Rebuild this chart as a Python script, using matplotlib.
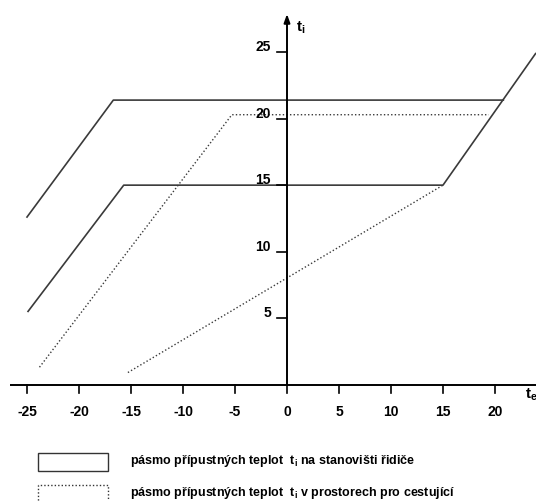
"""
Pásmo přípustných teplot t_i v závislosti na venkovní teplotě t_e.
Přepis naskenovaného diagramu do matplotlib.
"""

import matplotlib
matplotlib.use('Agg')
import matplotlib.pyplot as plt
from matplotlib.patches import Rectangle

plt.rcParams['font.family'] = ['Liberation Sans', 'DejaVu Sans']
plt.rcParams['mathtext.fontset'] = 'custom'
plt.rcParams['mathtext.rm'] = 'Liberation Sans'
plt.rcParams['mathtext.it'] = 'Liberation Sans'
plt.rcParams['mathtext.bf'] = 'Liberation Sans:bold'

# --- Data ---
# pásmo pro řidiče (plné čáry)
ridic_horni_x = [-25.0, -16.7, 20.8]
ridic_horni_y = [12.6, 21.4, 21.4]
ridic_dolni_x = [-24.9, -15.7, 15.0, 23.9]
ridic_dolni_y = [5.5, 15.0, 15.0, 24.9]

# pásmo pro cestující (tečkované čáry)
cest_horni_x = [-23.8, -5.3, 19.4]
cest_horni_y = [1.3, 20.3, 20.3]
cest_dolni_x = [-15.3, 15.0]
cest_dolni_y = [0.9, 15.0]

xticks = [-25, -20, -15, -10, -5, 0, 5, 10, 15, 20]
yticks = [5, 10, 15, 20, 25]

legenda = [
    r'pásmo přípustných teplot  $\mathbf{t_i}$ na stanovišti řidiče',
    r'pásmo přípustných teplot  $\mathbf{t_i}$ v prostorech pro cestující',
]

# --- Měřítko: pixely obrázku 536x501 ---
W, H = 536, 501
X0, SX = 287.0, 10.4     # px pozice t_e = 0, px na stupeň
Y0, SY = 384.5, 13.29    # px pozice t_i = 0, px na stupeň

fig = plt.figure(figsize=(W / 100, H / 100), dpi=100)
ax = fig.add_axes([0, 0, 1, 1])
ax.set_xlim(-X0 / SX, (W - X0) / SX)
ax.set_ylim((Y0 - H) / SY, Y0 / SY)
ax.axis('off')

LINE = '#3a3a3a'
ax.plot(ridic_horni_x, ridic_horni_y, color=LINE, lw=1.2)
ax.plot(ridic_dolni_x, ridic_dolni_y, color=LINE, lw=1.2)
DOT = (0, (1.0, 1.6))
ax.plot(cest_horni_x, cest_horni_y, color=LINE, lw=1.0, ls=DOT)
ax.plot(cest_dolni_x, cest_dolni_y, color=LINE, lw=1.0, ls=DOT)

# --- Osy ---
px_x = 1 / SX   # 1 px ve vodorovných datech
px_y = 1 / SY   # 1 px ve svislých datech
ax.plot([(10 - X0) / SX, (W - X0) / SX], [0, 0], color='black', lw=1.4,
        solid_capstyle='butt')
ax.annotate('', xy=(0, (Y0 - 14) / SY), xytext=(0, 0),
            arrowprops=dict(arrowstyle='-|>,head_length=0.5,head_width=0.18',
                            color='black', lw=1.4, shrinkA=0, shrinkB=0))

for v in xticks:
    ax.plot([v, v], [0, -8 * px_y], color='black', lw=1.2)
    ax.text(v, -27 * px_y, str(v), fontsize=10, fontweight='bold',
            ha='center', va='center')

for v in yticks:
    ax.plot([-10 * px_x, 0], [v, v], color='black', lw=1.2)
    ax.text(-16 * px_x, v + 1 * px_y, str(v), fontsize=10, fontweight='bold',
            ha='right', va='baseline')

ax.text(9 * px_x, (Y0 - 28) / SY, r'$\mathbf{t_i}$', fontsize=11,
        ha='left', va='center')
ax.text((W - 5 - X0) / SX, -10 * px_y, r'$\mathbf{t_e}$', fontsize=11,
        ha='center', va='center')

# --- Legenda ---
def fx(px):
    return px / W


def fy(py):
    return 1 - py / H


fig.add_artist(Rectangle((fx(38), fy(471)), fx(108) - fx(38), fy(453) - fy(471),
                         transform=fig.transFigure, fill=False,
                         edgecolor='#333333', lw=1.0))
fig.add_artist(Rectangle((fx(38), fy(506)), fx(108) - fx(38), fy(485) - fy(506),
                         transform=fig.transFigure, fill=False,
                         edgecolor='#333333', lw=1.0, ls=(0, (1.0, 1.5))))
fig.text(fx(130), fy(461), legenda[0], fontsize=9, fontweight='bold',
         ha='left', va='center')
fig.text(fx(130), fy(493), legenda[1], fontsize=9, fontweight='bold',
         ha='left', va='center')

fig.savefig('out.png', dpi=100, facecolor='white')
